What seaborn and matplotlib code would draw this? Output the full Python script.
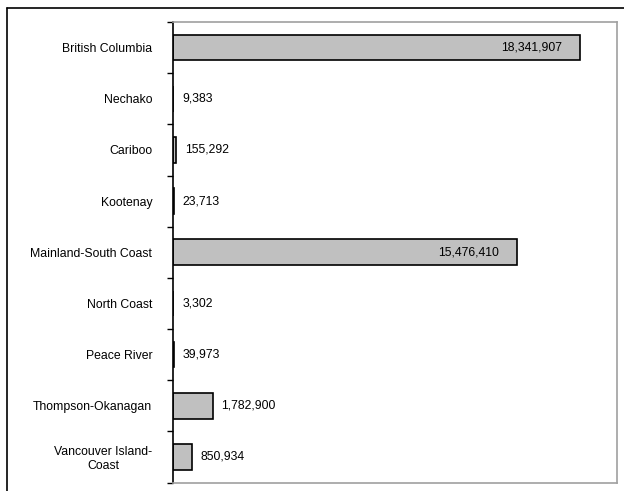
import matplotlib
matplotlib.use("Agg")
import matplotlib.pyplot as plt
from matplotlib.lines import Line2D
from matplotlib.ticker import FixedLocator
import seaborn as sns
import pandas as pd

regions = [
    "British Columbia",
    "Nechako",
    "Cariboo",
    "Kootenay",
    "Mainland-South Coast",
    "North Coast",
    "Peace River",
    "Thompson-Okanagan",
    "Vancouver Island-\nCoast",
]
values = [18341907, 9383, 155292, 23713, 15476410, 3302, 39973, 1782900, 850934]

df = pd.DataFrame({"region": regions, "value": values})

sns.set_theme(style="white")
plt.rcParams["font.family"] = ["Liberation Sans", "DejaVu Sans"]
FS = 8.8
plt.rcParams["font.size"] = FS

fig = plt.figure(figsize=(6.24, 4.91), dpi=100)
ax = fig.add_axes([173 / 624, 1 - 482.5 / 491, (617 - 173) / 624, (482.5 - 22) / 491])

sns.barplot(data=df, x="value", y="region", orient="h", color="#C0C0C0",
            edgecolor="black", linewidth=1.2, width=0.5, saturation=1, ax=ax)

ax.set_xlim(0, 20000000)
ax.set_ylim(len(regions) - 0.5, -0.5)
ax.set_xlabel("")
ax.set_ylabel("")
ax.set_xticks([])

# category labels at centres, tick marks at category boundaries
ax.tick_params(axis="y", which="major", length=0, pad=15, labelsize=FS, labelcolor="black")
ax.yaxis.set_minor_locator(FixedLocator([i - 0.5 for i in range(len(regions) + 1)]))
ax.tick_params(axis="y", which="minor", length=4, width=1, color="black", direction="out", left=True)
for lbl in ax.get_yticklabels():
    lbl.set_multialignment("center")

for side in ["top", "right", "bottom"]:
    ax.spines[side].set_color("#A0A0A0")
    ax.spines[side].set_linewidth(1.2)
ax.spines["left"].set_color("black")
ax.spines["left"].set_linewidth(1.2)

for i, v in enumerate(values):
    text = f"{v:,}"
    if v > 10000000:
        ax.annotate(text, xy=(v, i), xytext=(-13, 0), textcoords="offset points",
                    ha="right", va="center", fontsize=FS, color="black")
    else:
        ax.annotate(text, xy=(v, i), xytext=(6.5, 0), textcoords="offset points",
                    ha="left", va="center", fontsize=FS, color="black")

# outer frame lines along the top and left edges
fig.add_artist(Line2D([7 / 624, 1], [1 - 8 / 491, 1 - 8 / 491], color="black", linewidth=1.2,
                      transform=fig.transFigure))
fig.add_artist(Line2D([7 / 624, 7 / 624], [0, 1 - 8 / 491], color="black", linewidth=1.2,
                      transform=fig.transFigure))

fig.savefig("out.png", dpi=100)
